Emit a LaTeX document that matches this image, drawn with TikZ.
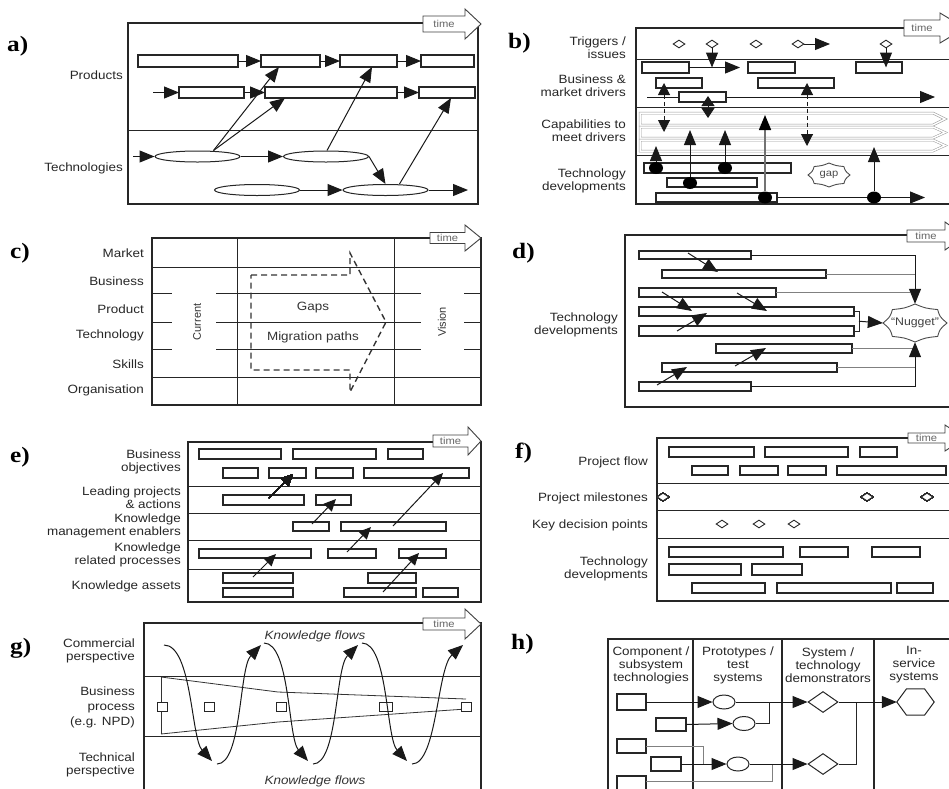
\documentclass[tikz,border=0pt]{standalone}
\usepackage{fontspec}
\setmainfont{Liberation Sans}[FakeStretch=1.12]
\newfontfamily\plainsans{Liberation Sans}
\newfontfamily\panelfont{Liberation Serif}[FakeStretch=1.15]
\usetikzlibrary{arrows.meta,shapes.geometric,calc}
\pgfdeclarelayer{bg}
\pgfsetlayers{bg,main}
\tikzset{
 frame/.style={draw=black!85, line width=1.1pt},
 rule/.style={draw=black!85, line width=0.9pt},
 bar/.style={draw=black!85, line width=1.2pt, fill=white, rectangle, inner sep=0pt, outer sep=0pt},
 arr/.style={draw=black!90, line width=1pt, -{Triangle[length=15pt,width=12pt]}},
 sarr/.style={draw=black!90, line width=1pt, -{Triangle[length=12pt,width=11pt]}},
 darr/.style={draw=black!90, line width=1pt, {Triangle[length=10pt,width=13pt]}-{Triangle[length=10pt,width=13pt]}},
 ddarr/.style={draw=black!90, line width=1pt, dash pattern=on 4pt off 3pt, {Triangle[length=12pt,width=12pt]}-{Triangle[length=12pt,width=12pt]}},
 garr/.style={draw=black!55, line width=1.6pt, -{Triangle[length=15pt,width=12pt,color=black]}},
 gline/.style={draw=black!50, line width=0.9pt},
 capbar/.style={draw=black!40, line width=0.5pt, double=white, double distance=1.5pt},
 dsh/.style={draw=black!80, line width=1.4pt, dash pattern=on 6pt off 4pt},
 lab/.style={font=\fontsize{12}{13}\selectfont, text=black!85, align=right, anchor=east, inner sep=0pt},
 hdr/.style={font=\fontsize{12}{13}\selectfont, text=black!85, align=center, inner sep=0pt},
 mid/.style={font=\fontsize{12}{13}\selectfont, text=black!80, inner sep=0pt},
 rot/.style={font=\plainsans\fontsize{11}{11}\selectfont, text=black!80, rotate=90, inner sep=0pt},
 panel/.style={font=\panelfont\bfseries\fontsize{22}{22}\selectfont, anchor=west, inner sep=0pt},
 tarrow/.style={draw=black!75, line width=0.9pt, fill=white},
 tlabel/.style={font=\fontsize{10}{10}\selectfont, text=black!60, inner sep=0pt},
 dmd/.style={draw=black!85, line width=0.9pt, diamond, inner sep=0pt, minimum width=12pt, minimum height=8pt, fill=white},
 hdmd/.style={draw=black!85, line width=1pt, diamond, inner sep=0pt, minimum width=30pt, minimum height=21pt, fill=white},
 dot/.style={fill=black, ellipse, inner sep=0pt, minimum width=14pt, minimum height=12pt},
 ell/.style={draw=black!85, line width=1pt, ellipse, inner sep=0pt, fill=white},
 sq/.style={draw=black!85, line width=0.9pt, fill=white, rectangle, inner sep=0pt, minimum width=10pt, minimum height=9pt},
 sealst/.style={draw=black!70, line width=0.9pt, fill=white},
}
\newcommand\mkbar[5]{\pgfmathsetmacro\mybw{#4-#2}\pgfmathsetmacro\mybh{#5-#3}%
 \node[bar, minimum width=\mybw pt, minimum height=\mybh pt, anchor=north west] (#1) at (#2,#3) {};}
\newcommand\timearr[7]{\draw[tarrow] (#2,#3-#6) -- (#4,#3-#6) -- (#4,#3-#7) -- (#5,#3) -- (#4,#3+#7) -- (#4,#3+#6) -- (#2,#3+#6) -- cycle;
 \node[tlabel] (#1) at ({(#2+#4)/2},#3) {time};}
\newcommand\seal[5]{\begin{scope}[shift={(#1,#2)},xscale=#3,yscale=#4]
 \draw[sealst] (0:1) \foreach \k in {1,...,#5}{ .. controls ({(\k-0.5)*360/#5}:0.84) .. ({\k*360/#5}:1)} -- cycle;
 \end{scope}}
\begin{document}
\begin{tikzpicture}[x=1pt,y=-1pt]
\useasboundingbox (0,0) rectangle (949,788);
% ================= a
\draw[frame] (128,23) rectangle (478,204);
\draw[rule] (128,130) -- (478,130);
\timearr{timea}{423}{24}{465}{481}{8}{15}
\node[panel] (pa) at (7,46) {a)};
\node[lab] (la1) at (123,75) {Products};
\node[lab] (la2) at (123,168) {Technologies};
\mkbar{a11}{138}{55}{238}{67}
\mkbar{a12}{261}{55}{320}{67}
\mkbar{a13}{340}{55}{397}{67}
\mkbar{a14}{421}{55}{474}{67}
\mkbar{a21}{179}{87}{244}{98}
\mkbar{a22}{265}{87}{397}{98}
\mkbar{a23}{419}{87}{475}{98}
\node[ell, minimum width=85pt, minimum height=11pt] (e1) at (197.5,156.5) {};
\node[ell, minimum width=85pt, minimum height=11pt] (e2) at (326,156.5) {};
\node[ell, minimum width=85pt, minimum height=11pt] (e3) at (257,190) {};
\node[ell, minimum width=85pt, minimum height=11pt] (e4) at (385.5,190) {};
\coordinate (a0) at (153,92.5);
\coordinate (a0b) at (133,156.5);
\coordinate (aend) at (468,190);
\draw[arr] (a11) -- (a12);
\draw[arr] (a12) -- (a13);
\draw[arr] (a13) -- (a14);
\draw[arr] (a0) -- (a21);
\draw[arr] (a21) -- (a22);
\draw[arr] (a22) -- (a23);
\draw[arr] (a0b) -- (e1);
\draw[arr] (e1) -- (e2);
\draw[arr] (e2.east) -- (e4.north);
\draw[arr] (e3) -- (e4);
\draw[arr] (e4) -- (aend);
\draw[arr] ([xshift=16pt]e1.north) -- ([xshift=18pt]a12.south west);
\draw[arr] ([xshift=16pt]e1.north) -- ([xshift=20pt]a22.south west);
\draw[arr] ([xshift=1pt]e2.north) -- ([xshift=32pt]a13.south west);
\draw[arr] ([xshift=14pt]e4.north) -- ([xshift=32pt]a23.south west);
% ================= b
\draw[frame] (636,28) rectangle (960,204);
\foreach \yy in {59,107,155} \draw[rule] (636,\yy) -- (960,\yy);
\foreach \ya/\yb in {113/125,127/138,140/151}
 \draw[capbar] (640,\ya) -- (933,\ya) -- (945,{(\ya+\yb)/2}) -- (933,\yb) -- (640,\yb) -- cycle;
\timearr{timeb}{904}{28}{940}{965}{8}{15}
\node[panel] (pb) at (508,43) {b)};
\node[lab] (lb1) at (626,48) {Triggers /\\issues};
\node[lab] (lb2) at (626,85.5) {Business \&\\market drivers};
\node[lab] (lb3) at (626,131) {Capabilities to\\meet drivers};
\node[lab] (lb4) at (626,180.5) {Technology\\developments};
\foreach \n/\xx in {1/679,2/712,3/756,4/798,5/886} \node[dmd] (bd\n) at (\xx,44) {};
\mkbar{bb1}{642}{62}{689}{73}
\mkbar{bb2}{748}{62}{795}{73}
\mkbar{bb3}{856}{62}{902}{73}
\mkbar{bb4}{656}{78}{702}{88}
\mkbar{bb5}{758}{78}{834}{88}
\mkbar{bb6}{679}{92}{726}{102}
\coordinate (bl0) at (647,97);
\coordinate (bl1) at (935,97);
\begin{pgfonlayer}{bg}
\draw[arr] (bl0) -- (bl1);
\end{pgfonlayer}
\coordinate (bx1) at (740,67.5);
\coordinate (bx4) at (830,44);
\draw[arr] (bb1.east) -- (bx1);
\draw[arr] (bd2.south) -- (bd2.south |- bb1.east);
\draw[arr] (bd4.east) -- (bx4);
\draw[arr] (bd5.south) -- (bd5.south |- bb3.east);
\coordinate (bq1) at (708,96);
\coordinate (bq2) at (708,118);
\draw[darr] (bq1) -- (bq2);
\coordinate (bv1) at (664,83);
\coordinate (bv2) at (664,132);
\coordinate (bv3) at (807,83);
\coordinate (bv4) at (807,146);
\draw[ddarr] (bv1) -- (bv2);
\draw[ddarr] (bv3) -- (bv4);
\mkbar{bt1}{644}{163}{791}{173}
\mkbar{bt2}{667}{178}{757}{187}
\mkbar{bt3}{656}{193}{777}{202}
\coordinate (bend) at (925,197.5);
\begin{pgfonlayer}{bg}
\draw[arr] (bt3.east) -- (bend);
\end{pgfonlayer}
\node[dot] (bc1) at (656,168) {};
\node[dot] (bc2) at (690,183) {};
\node[dot] (bc3) at (725,168) {};
\node[dot] (bc4) at (765,197.5) {};
\node[dot] (bc5) at (874,197.5) {};
\coordinate (bu1) at (656,146);
\coordinate (bu2) at (690,130);
\coordinate (bu3) at (725,130);
\coordinate (bu4) at (765,115);
\coordinate (bu5) at (874,147);
\draw[arr] (bc1) -- (bu1);
\draw[arr] (bc2) -- (bu2);
\draw[arr] (bc3) -- (bu3);
\draw[garr] (bc4) -- (bu4);
\draw[arr] (bc5) -- (bu5);
\seal{829}{175}{21}{12}{8}
\node[font=\fontsize{10}{10}\selectfont, text=black!70, inner sep=0pt] (gap) at (829,175) {gap};
% ================= c
\draw[frame] (152,238) rectangle (481,405);
\draw[rule] (237,238) -- (237,405);
\draw[rule] (394,238) -- (394,405);
\draw[rule] (152,267) -- (481,267);
\draw[rule] (152,377) -- (481,377);
\foreach \yy in {293,322,349} {\draw[rule] (152,\yy) -- (172,\yy); \draw[rule] (216,\yy) -- (421,\yy); \draw[rule] (464,\yy) -- (481,\yy);}
\draw[dsh] (251,275) -- (350,275) -- (350,253) -- (386,322) -- (350,392) -- (350,370) -- (251,370) -- cycle;
\node[mid] (cgap) at (313,308) {Gaps};
\node[mid] (cmig) at (313,337) {Migration paths};
\node[rot] (ccur) at (197,322) {Current};
\node[rot] (cvis) at (442,322) {Vision};
\timearr{timec}{430}{238}{465}{481}{5.5}{13}
\node[panel] (pc) at (10,253) {c)};
\node[lab] (lc1) at (144,253) {Market};
\node[lab] (lc2) at (144,281) {Business};
\node[lab] (lc3) at (144,309) {Product};
\node[lab] (lc4) at (144,335) {Technology};
\node[lab] (lc5) at (144,364) {Skills};
\node[lab] (lc6) at (144,390) {Organisation};
% ================= d
\draw[frame] (625,235) rectangle (960,407);
\timearr{timed}{907}{236}{945}{965}{6}{14}
\node[panel] (pd) at (512,253) {d)};
\node[lab] (ld1) at (618,324.5) {Technology\\developments};
\mkbar{d1}{639}{251}{751}{259}
\mkbar{d2}{662}{270}{826}{278}
\mkbar{d3}{639}{288}{776}{297}
\mkbar{d4}{639}{307}{854}{316}
\mkbar{d5}{639}{326}{854}{336}
\mkbar{d6}{716}{344}{852}{353}
\mkbar{d7}{662}{363}{837}{372}
\mkbar{d8}{639}{382}{751}{391}
\seal{915}{323}{32}{19}{8}
\node[inner sep=0pt, minimum width=64pt, minimum height=38pt, font=\fontsize{11}{11}\selectfont, text=black!75] (nug) at (915,323) {“Nugget”};
\draw[arr] (d1.east) -| (nug.north);
\draw[gline] (d2.east) -- (d2.east -| nug.north);
\draw[gline] (d3.east) -- ([xshift=-5pt]d3.east -| nug.north);
\draw[rule] (d4.east) -- ++(5,0) |- (d5.east);
\draw[arr] ($(d4.east)!.5!(d5.east)+(5,0)$) -- (nug.west);
\draw[gline] (d6.east) -- (d6.east -| nug.south);
\draw[gline] (d7.east) -- (d7.east -| nug.south);
\draw[arr] (d8.east) -| (nug.south);
\draw[arr] (688,253) -- (718,272);
\draw[arr] (662,292) -- (692,311);
\draw[arr] (737,293) -- (767,311);
\draw[arr] (677,331) -- (707,313);
\draw[arr] (735,366) -- (766,348);
\draw[arr] (657,385) -- (687,367);
% ================= e
\draw[frame] (188,442) rectangle (481,602);
\foreach \yy in {486,513,540,569} \draw[rule] (188,\yy) -- (481,\yy);
\timearr{timee}{433}{441}{468}{481}{6}{14}
\node[panel] (pe) at (10,457) {e)};
\node[lab] (le1) at (181,461.5) {Business\\objectives};
\node[lab] (le2) at (181,497.5) {Leading projects\\\& actions};
\node[lab] (le3) at (181,526) {Knowledge\\management enablers};
\node[lab] (le4) at (181,555) {Knowledge\\related processes};
\node[lab] (le5) at (181,586) {Knowledge assets};
\foreach \n/\xa/\xb in {1/199/281,2/293/376,3/388/423} \mkbar{eo\n}{\xa}{449}{\xb}{459}
\foreach \n/\xa/\xb in {1/223/258,2/269/306,3/316/353,4/364/469} \mkbar{ep\n}{\xa}{468}{\xb}{478}
\foreach \n/\xa/\xb in {1/223/304,2/316/351} \mkbar{el\n}{\xa}{495}{\xb}{505}
\foreach \n/\xa/\xb in {1/293/329,2/341/446} \mkbar{em\n}{\xa}{522}{\xb}{531}
\foreach \n/\xa/\xb in {1/199/311,2/328/376,3/399/446} \mkbar{er\n}{\xa}{549}{\xb}{558}
\foreach \n/\xa/\xb in {1/223/293,2/368/416} \mkbar{ea\n}{\xa}{573}{\xb}{583}
\foreach \n/\xa/\xb in {1/223/293,2/344/416,3/423/458} \mkbar{eb\n}{\xa}{588}{\xb}{597}
\draw[sarr] (269,498) -- (293,474);
\draw[sarr] (312,524) -- (336,499);
\draw[sarr] (393,526) -- (443,473);
\draw[sarr] (347,552) -- (371,527);
\draw[sarr] (253,577) -- (276,554);
\draw[sarr] (383,592) -- (419,553);
% ================= f
\draw[frame] (657,438) rectangle (960,601);
\foreach \yy in {483,510,538} \draw[rule] (657,\yy) -- (960,\yy);
\timearr{timef}{908}{438}{945}{965}{5}{13}
\node[panel] (pf) at (515,453) {f)};
\node[lab] (lf1) at (648,462) {Project flow};
\node[lab] (lf2) at (648,498) {Project milestones};
\node[lab] (lf3) at (648,525) {Key decision points};
\node[lab] (lf4) at (648,569) {Technology\\developments};
\foreach \n/\xa/\xb in {1/669/754,2/765/848,3/860/897} \mkbar{fa\n}{\xa}{447}{\xb}{457}
\foreach \n/\xa/\xb in {1/692/728,2/740/778,3/788/826,4/837/946} \mkbar{fb\n}{\xa}{466}{\xb}{475}
\foreach \n/\xa/\xb in {1/669/783,2/800/848,3/872/920} \mkbar{fc\n}{\xa}{547}{\xb}{557}
\foreach \n/\xa/\xb in {1/669/741,2/752/802} \mkbar{fd\n}{\xa}{564}{\xb}{575}
\foreach \n/\xa/\xb in {1/692/765,2/777/891,3/897/933} \mkbar{fe\n}{\xa}{583}{\xb}{593}
\foreach \n/\xx in {1/663,2/867,3/927} \node[dmd] (fm\n) at (\xx,497) {};
\foreach \n/\xx in {1/722,2/759,3/794} \node[dmd] (fk\n) at (\xx,524) {};
% ================= g
\draw[frame] (144,623) rectangle (481,800);
\draw[rule] (144,676) -- (481,676);
\draw[rule] (144,736) -- (481,736);
\timearr{timeg}{423}{624}{465}{481}{6}{15}
\node[panel] (pg) at (10,648) {g)};
\node[lab] (lg1) at (135,650.5) {Commercial\\perspective};
\node[lab, font=\fontsize{12}{15}\selectfont] (lg2) at (135,707) {Business\\process\\(e.g. NPD)};
\node[lab] (lg3) at (135,765) {Technical\\perspective};
\node[font=\itshape\fontsize{12}{12}\selectfont, text=black!80, inner sep=0pt] (kf1) at (315,636) {Knowledge flows};
\node[font=\itshape\fontsize{12}{12}\selectfont, text=black!80, inner sep=0pt] (kf2) at (315,781) {Knowledge flows};
\draw[draw=black!80, line width=0.8pt] (161,677) -- (161,734);
\draw[draw=black!80, line width=0.8pt] (161,677) -- (278,692) -- (466,699);
\draw[draw=black!80, line width=0.8pt] (161,734) -- (278,722) -- (466,709);
\node[sq] (gs1) at (162,706.5) {};
\node[sq] (gs2) at (209,706.5) {};
\node[sq] (gs3) at (281,706.5) {};
\node[sq, minimum width=13pt] (gs4) at (386,706.5) {};
\node[sq] (gs5) at (466,706.5) {};
\draw[arr] (164,645) .. controls (192,645) and (191,738) .. (212,761);
\draw[arr] (217,764) .. controls (242,764) and (239,668) .. (261,645);
\draw[arr] (264,643) .. controls (290,643) and (288,738) .. (308,761);
\draw[arr] (313,764) .. controls (338,764) and (335,668) .. (358,645);
\draw[arr] (362,643) .. controls (388,643) and (386,738) .. (407,761);
\draw[arr] (412,764) .. controls (437,764) and (437,668) .. (463,645);
% ================= h
\draw[frame] (608,639) rectangle (960,800);
\foreach \xx in {693,782,874} \draw[frame] (\xx,639) -- (\xx,800);
\node[panel] (ph) at (511,644) {h)};
\node[hdr] (hh1) at (651,665) {Component /\\subsystem\\technologies};
\node[hdr] (hh2) at (738,665) {Prototypes /\\test\\systems};
\node[hdr] (hh3) at (828,665) {System /\\technology\\demonstrators};
\node[hdr] (hh4) at (914,665) {In-\\service\\systems};
\mkbar{hb1}{617}{694}{646}{710}
\mkbar{hb2}{656}{718}{686}{731}
\mkbar{hb3}{617}{739}{646}{753}
\mkbar{hb4}{651}{757}{681}{771}
\mkbar{hb5}{617}{776}{646}{796}
\node[ell, minimum width=22pt, minimum height=14pt] (hc1) at (724,702) {};
\node[ell, minimum width=22pt, minimum height=14pt] (hc2) at (744,723.5) {};
\node[ell, minimum width=22pt, minimum height=14pt] (hc3) at (738,764) {};
\node[hdmd] (hd1) at (823,702) {};
\node[hdmd] (hd2) at (823,764) {};
\node[inner sep=0pt, minimum width=37pt, minimum height=26pt] (hx) at (915.5,702) {};
\draw[draw=black!85, line width=1pt, fill=white] (hx.west) -- ([xshift=-9pt]hx.north) -- ([xshift=9pt]hx.north) -- (hx.east) -- ([xshift=9pt]hx.south) -- ([xshift=-9pt]hx.south) -- cycle;
\coordinate (hj1) at (769,702);
\coordinate (hj2) at (856,702);
\coordinate (hj3) at (703,764);
\coordinate (hj4) at (772,764);
\coordinate (hb5e) at (646,781);
\draw[gline] (hb3.east) -| (hj3);
\draw[gline] (hb5e) -| (hj4);
\draw[arr] (hb1.east) -- (hc1.west);
\draw[arr] (hb2.east) -- (hc2.west);
\draw[arr] (hb4.east) -- (hc3.west);
\draw[arr] (hc1.east) -- (hd1.west);
\draw[rule] (hc2.east) -| (hj1);
\draw[arr] (hc3.east) -- (hd2.west);
\draw[rule] (hd2.east) -| (hj2);
\draw[arr] (hd1.east) -- (hx.west);
\end{tikzpicture}
\end{document}
